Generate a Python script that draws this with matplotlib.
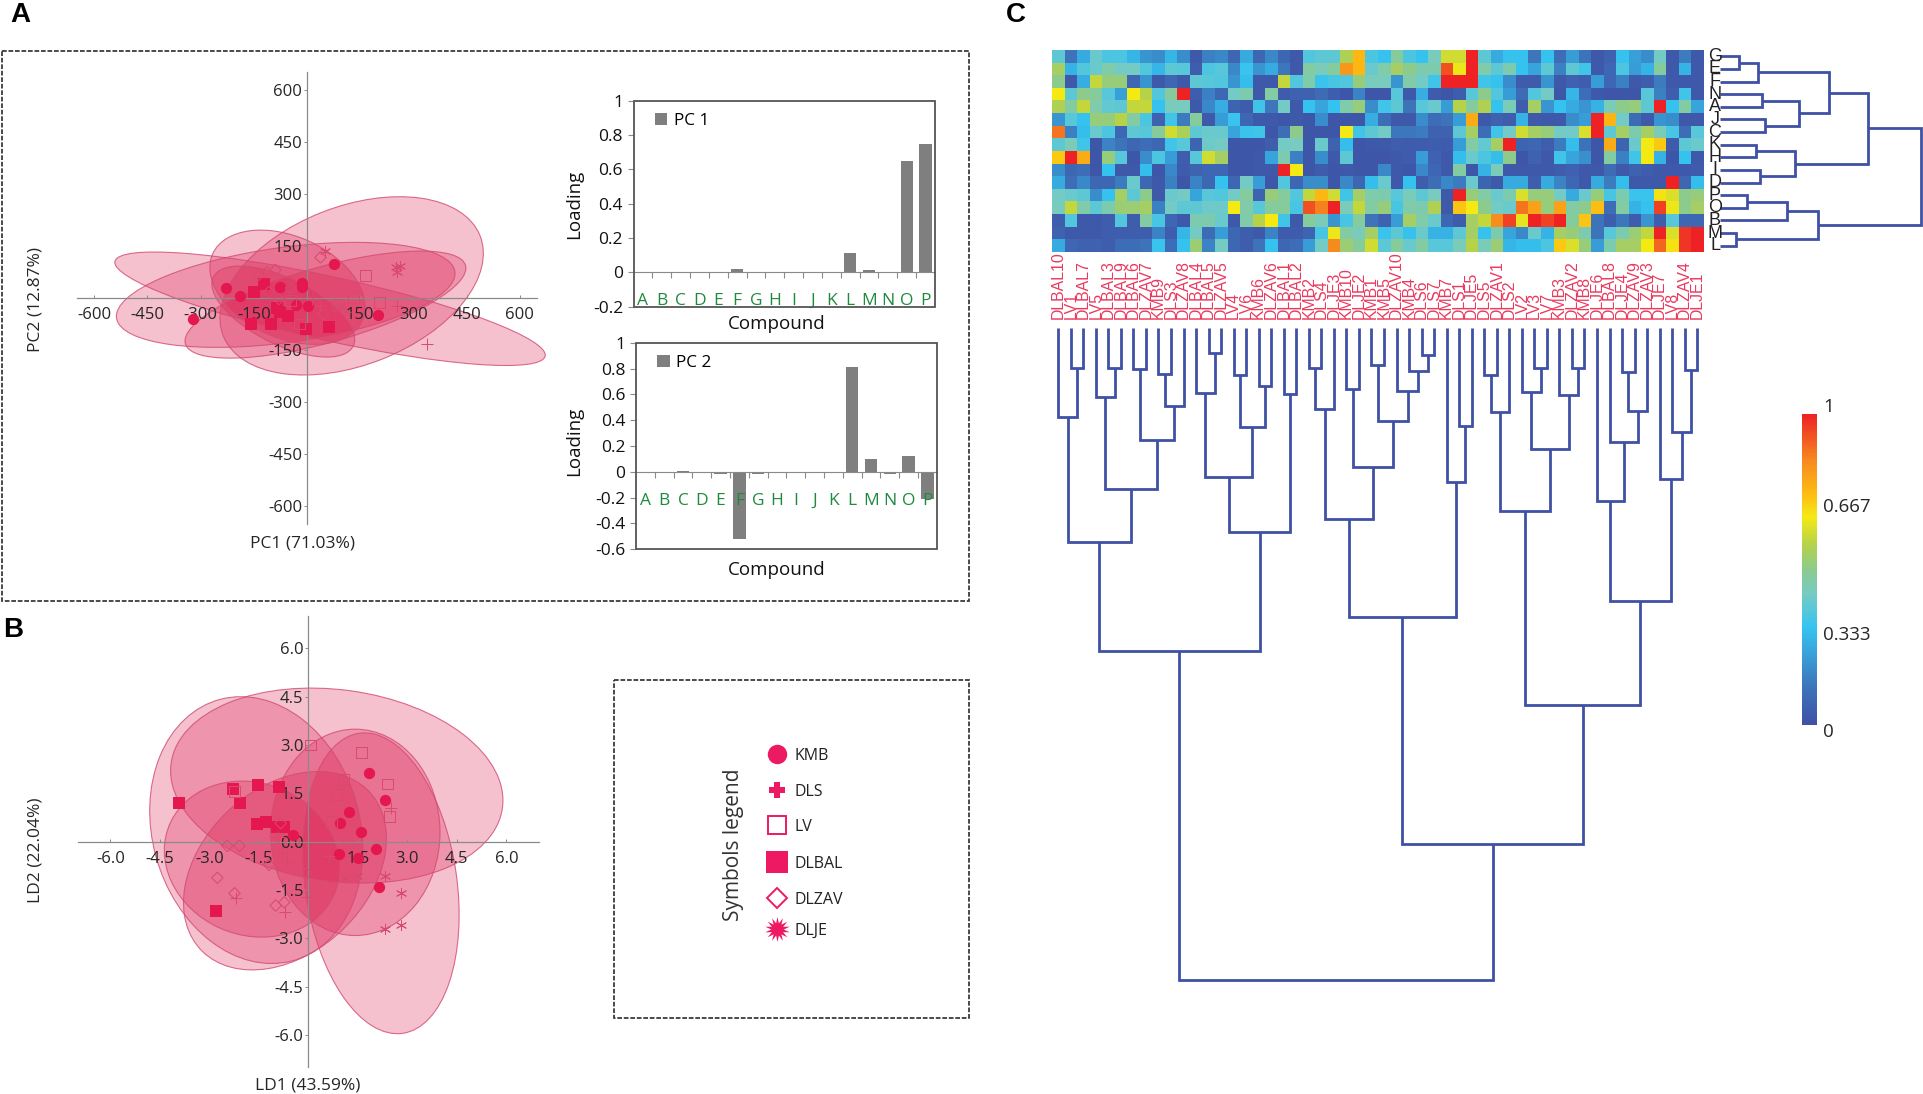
import matplotlib
matplotlib.use('Agg')
import matplotlib.pyplot as plt
from matplotlib.patches import Ellipse, Rectangle
from matplotlib.colors import LinearSegmentedColormap
import numpy as np

W, H = 1923, 1094
plt.rcParams['font.family'] = ['Open Sans', 'DejaVu Sans']

# ---------------- data ----------------
pca_ticks = [-600, -450, -300, -150, 150, 300, 450, 600]
lda_xticks = [-6.0, -4.5, -3.0, -1.5, 1.5, 3.0, 4.5, 6.0]
lda_yticks = [-6.0, -4.5, -3.0, -1.5, 0.0, 1.5, 3.0, 4.5, 6.0]

# ellipses: centre x, centre y, semi-axis a, semi-axis b, angle
pca_ellipses = [(126, 35, 390, 228, 22), (65, -31, 622, 92, -12.7), (-60, 9, 482, 137, 8),
                (52, -19, 411, 109, 16), (-55, 31, 232, 146, -25), (-67, -39, 221, 95, -27)]
lda_ellipses = [(0.86, 1.74, 5.07, 2.97, -8), (-1.58, 0.36, 4.2, 3.15, -75), (-0.71, -0.90, 3.54, 2.53, 45),
                (-1.71, -0.54, 2.72, 2.35, -25), (1.42, 0.29, 3.2, 2.57, 90), (2.2, -1.29, 4.7, 2.3, -82)]

pca_kmb = [(75, 99), (-229, 28), (-188, 6), (-75, 31), (-15, 43), (-15, 31), (-31, -21), (3, -24), (200, -50), (-321, -61)]
pca_dlbal = [(-120, 39), (-149, 16), (-85, -29), (-77, -41), (-53, -51), (-101, -75), (-2, -88), (62, -84), (-159, -75)]
pca_lv = [(164, 64), (131, 2), (204, -13), (87, -19), (-21, -75), (-46, -8)]
pca_dlzav = [(38, 117), (-89, 81), (-113, 74), (-136, 67), (-46, 28), (-108, 17), (46, -47), (-79, -3)]
pca_dls = [(338, -132), (253, -24), (36, -24), (108, -39), (15, -3)]
pca_dlje = [(262, 93), (253, 76), (92, -22), (51, 136), (251, 90)]

lda_kmb = [(1.83, 2.14), (2.32, 1.29), (1.24, 0.92), (0.96, 0.57), (1.58, 0.30), (-0.47, 0.22), (2.04, -0.23), (0.93, -0.39), (1.51, -0.52), (2.13, -1.40)]
lda_dlbal = [(-3.91, 1.21), (-2.28, 1.63), (-1.52, 1.76), (-0.88, 1.69), (-2.08, 1.20), (-1.55, 0.55), (-1.29, 0.62), (-0.95, 0.47), (-0.75, 0.47), (-2.80, -2.14)]
lda_lv = [(0.07, 3.0), (1.61, 2.76), (1.06, 1.93), (2.40, 1.79), (0.85, 1.45), (2.47, 0.78), (0.71, 0.64), (-2.24, 1.55)]
lda_dlzav = [(-0.84, 0.57), (-2.46, -0.13), (-2.09, -0.13), (-2.76, -1.12), (-2.24, -1.60), (-0.99, -1.98), (-0.73, -1.88), (-1.19, -0.72), (-0.06, -0.98)]
lda_dls = [(2.51, 1.03), (-0.92, 0.16), (-0.81, -0.36), (-0.64, -0.64), (-2.19, -1.76), (-0.70, -2.17), (0.63, -0.44), (-0.03, -1.71)]
lda_dlje = [(1.15, -1.14), (1.46, -1.05), (2.31, -1.05), (2.80, -1.60), (2.80, -2.59), (2.32, -2.71)]

compounds = list('ABCDEFGHIJKLMNOP')
pc1_loadings = [0, 0, -0.005, 0, 0, 0.02, 0.005, 0, 0, 0, 0, 0.11, 0.015, 0, 0.65, 0.75]
pc2_loadings = [0, 0, 0.01, 0, -0.02, -0.52, -0.02, 0, -0.005, 0, 0, 0.81, 0.1, -0.02, 0.12, -0.21]

sample_labels = ['DLBAL10', 'LV1', 'DLBAL7', 'LV5', 'DLBAL3', 'DLBAL9', 'DLBAL6', 'DLZAV7', 'KMB9', 'DLS3',
                 'DLZAV8', 'DLBAL4', 'DLBAL5', 'DLZAV5', 'LV4', 'LV6', 'KMB6', 'DLZAV6', 'DLBAL1', 'DLBAL2',
                 'KMB2', 'DLS4', 'DLJE3', 'KMB10', 'DLJE2', 'KMB1', 'KMB5', 'DLZAV10', 'KMB4', 'DLS6',
                 'DLS7', 'KMB7', 'DLS1', 'DLJE5', 'DLS5', 'DLZAV1', 'DLS2', 'LV2', 'LV3', 'LV7',
                 'KMB3', 'DLZAV2', 'KMB8', 'DLJE6', 'DLBAL8', 'DLJE4', 'DLZAV9', 'DLZAV3', 'DLJE7', 'LV8',
                 'DLZAV4', 'DLJE1']
row_labels = ['G', 'E', 'F', 'N', 'A', 'J', 'C', 'K', 'H', 'I', 'D', 'P', 'O', 'B', 'M', 'L']

row_G = [.38,.12,.25,.40,.35,.35,.28,.20,.18,.28,.18,.03,.15,.17,.08,.25,.08,.17,.08,.03,.36,.38,.38,.57,.75,.35,.31,
         .48,.35,.31,.43,.62,.62,1,.38,.25,.31,.31,.13,.31,.10,.22,.12,.03,.06,.31,.23,.18,.42,.03,.14,.03]
row_E = [.55,.27,.36,.40,.46,.42,.42,.36,.28,.38,.37,.05,.35,.37,.17,.32,.2,.25,.13,.03,.47,.44,.48,.82,.75,.4,.46,
         .55,.5,.45,.45,.93,.66,1,.46,.38,.45,.31,.24,.38,.15,.38,.33,.03,.08,.35,.22,.27,.48,.03,.27,.03]
row_F = [.5,.03,.26,.6,.52,.52,.08,.2,.03,.08,.03,.38,.37,.36,.2,.3,.03,.03,.6,.36,.46,.32,.34,.36,.52,.43,.43,
         .2,.46,.42,.33,1,1,1,.33,.31,.18,.04,.04,.2,.03,.06,.05,.22,.08,.15,.03,.05,.14,.03,.03,.03]
row_N = [.67,.38,.5,.48,.37,.23,.67,.58,.36,.48,1,.05,.15,.08,.42,.45,.03,.47,.04,.06,.06,.09,.05,.02,.16,.02,.02,
         .37,.03,.26,.04,.02,.05,.37,.5,.36,.22,.09,.36,.42,.02,.28,.1,.03,.02,.02,.02,.37,.15,.05,.33,.03]
row_A = [.57,.47,.6,.46,.39,.38,.6,.6,.31,.43,.43,.03,.17,.26,.07,.04,.33,.13,.42,.03,.31,.24,.31,.46,.52,.18,.33,
         .38,.12,.37,.4,.22,.58,.48,.57,.31,.44,.05,.55,.2,.31,.25,.2,.27,.44,.5,.52,.38,1,.31,.47,.24]
row_J = [.2,.37,.31,.52,.52,.58,.47,.35,.06,.33,.14,.48,.03,.22,.32,.08,.03,.03,.02,.03,.02,.18,.02,.02,.02,.26,.1,
         .03,.03,.18,.1,.12,.22,.78,.03,.06,.05,.27,.03,.03,.03,.18,.22,1,.76,.42,.09,.03,.2,.18,.03,.03]
row_C = [.88,.15,.3,.4,.35,.08,.38,.37,.48,.62,.56,.38,.4,.4,.24,.32,.33,.02,.1,.5,.02,.02,.02,.67,.33,.38,.42,
         .13,.13,.14,.06,.06,.38,.55,.1,.33,.42,.62,.55,.52,.42,.42,.63,1,.38,.55,.45,.55,.44,.34,.1,.37]
row_K = [.38,.44,.33,.02,.16,.12,.08,.1,.08,.33,.37,.07,.41,.42,.02,.02,.02,.05,.42,.43,.02,.4,.06,.3,.02,.03,.03,
         .05,.04,.04,.05,.04,.22,.47,.39,.55,1,.07,.08,.05,.14,.3,.11,.02,.78,.07,.4,.67,.72,.04,.38,.4]
row_H = [.72,1,.78,.02,.52,.37,.02,.18,.35,.22,.05,.37,.62,.55,.02,.02,.03,.24,.45,.15,.02,.18,.03,.38,.02,.02,.02,
         .03,.04,.22,.06,.03,.3,.4,.35,.3,.5,.02,.06,.03,.33,.24,.19,.02,.47,.15,.33,.67,.27,.02,.31,.03]
row_I = [.18,.08,.1,.02,.31,.03,.03,.3,.02,.17,.04,.07,.08,.08,.02,.02,.03,.03,1,.67,.02,.04,.02,.03,.02,.02,.17,
         .03,.02,.17,.08,.03,.47,.02,.27,.44,.03,.03,.03,.03,.05,.06,.03,.03,.09,.03,.06,.05,.03,.03,.03,.04]
row_D = [.25,.1,.17,.08,.08,.14,.4,.08,.03,.15,.02,.16,.08,.31,.08,.42,.22,.02,.36,.08,.18,.18,.02,.17,.08,.3,.4,
         .03,.31,.05,.1,.17,.14,.4,.07,.03,.25,.25,.05,.25,.16,.08,.03,.25,.14,.3,.03,.03,.03,1,.08,.3]
row_P = [.42,.4,.38,.18,.31,.55,.38,.5,.03,.4,.42,.24,.37,.36,.42,.48,.06,.52,.48,.36,.6,.75,.62,.33,.55,.46,.45,
         .37,.44,.38,.43,.03,1,.52,.47,.4,.45,.63,.52,.52,.42,.25,.4,.52,.34,.45,.32,.32,.68,.63,.5,.52]
row_O = [.43,.6,.46,.38,.45,.53,.53,.55,.15,.42,.38,.38,.41,.41,.67,.46,.37,.48,.48,.34,.93,.86,1,.44,.6,.47,.52,
         .34,.46,.45,.57,.03,.73,.67,.5,.42,.4,.88,.8,.52,.8,.47,.5,.74,.1,.47,.27,.31,.95,.66,.5,.55]
row_B = [.05,.36,.03,.03,.05,.36,.05,.47,.34,.08,.03,.45,.45,.40,.03,.46,.58,.67,.33,.03,.48,.44,.20,.34,.48,.12,.06,
         .22,.55,.46,.4,.08,.04,.55,.6,.84,.95,.65,1,.95,1,.48,.73,.12,.05,.13,.04,.2,.05,.37,.08,.08]
row_M = [.06,.03,.03,.03,.05,.05,.05,.05,.16,.05,.28,.42,.09,.22,.08,.05,.03,.16,.04,.04,.07,.34,.66,.47,.43,.55,.32,
         .38,.31,.4,.27,.27,.38,.55,.31,.45,.24,.17,.4,.27,.55,.52,.45,.12,.37,.45,.53,.6,1,.63,.97,1]
row_L = [.25,.08,.06,.06,.05,.1,.1,.12,.32,.1,.31,.53,.16,.42,.08,.05,.12,.31,.08,.1,.22,.42,.85,.53,.48,.62,.38,
         .48,.4,.47,.37,.37,.44,.58,.44,.53,.28,.3,.3,.35,.72,.63,.52,.22,.45,.55,.55,.67,.9,.68,.97,1]
heat_rows = [row_G, row_E, row_F, row_N, row_A, row_J, row_C, row_K, row_H, row_I, row_D, row_P, row_O, row_B, row_M, row_L]

# sample dendrogram: merge i creates node 52+i
sample_merge_a = [1, 0, 4, 3, 6, 8, 57, 56, 55, 53, 12, 11, 14, 16, 64, 63, 18, 67, 61,
                  20, 71, 23, 25, 29, 28, 27, 74, 73, 72, 32, 31, 80,
                  34, 84, 38, 37, 41, 40, 87, 85, 45, 92, 44, 43, 50, 49, 48, 95, 91, 83, 70]
sample_merge_b = [2, 52, 5, 54, 7, 9, 10, 58, 59, 60, 13, 62, 15, 17, 65, 66, 19, 68, 69,
                  21, 22, 24, 26, 30, 75, 76, 77, 78, 79, 33, 81, 82,
                  35, 36, 39, 86, 42, 88, 89, 90, 46, 47, 93, 94, 51, 96, 97, 98, 99, 100, 101]
sample_merge_h = [90, 200, 91, 156, 93, 103, 176, 251, 361, 479, 56, 146, 105, 131, 223, 335, 149, 457, 725,
                  91, 183, 137, 83, 62, 98, 141, 209, 313, 428, 220, 345, 649,
                  105, 189, 91, 144, 91, 151, 272, 411, 99, 187, 257, 389, 95, 233, 340, 613, 845, 1157, 1460]

# compound dendrogram: merge i creates node 16+i
comp_merge_a = [0, 16, 3, 5, 18, 17, 7, 9, 22, 21, 11, 26, 14, 27, 25]
comp_merge_b = [1, 2, 4, 6, 19, 20, 8, 10, 23, 24, 12, 13, 15, 28, 29]
comp_merge_h = [57, 113, 125, 135, 236, 327, 107, 121, 225, 445, 80, 200, 48, 294, 603]

cbar_labels = ['0', '0.333', '0.667', '1']
cbar_label_pos = [-0.023, 0.29, 0.70, 1.023]

# ---------------- styles ----------------
PINK = '#DC1C4E'
EDGE = '#D24A70'
MARK = '#E5174F'
AXC = '#8A8A8A'
TXT = '#262626'
DBLUE = '#3F51A5'
LABEL_RED = '#EA3A5E'
fig = plt.figure(figsize=(W / 100, H / 100), dpi=100, facecolor='white')


def ax_px(l, t, r, b, **kw):
    return fig.add_axes([l / W, 1 - b / H, (r - l) / W, (b - t) / H], **kw)


def scatter_panel(ax, ellipses, kmb, dlbal, lv, dlzav, dls, dlje, lim, xticks, yticks, fmt):
    for cx, cy, a, b, ang in ellipses:
        ax.add_patch(Ellipse((cx, cy), 2 * a, 2 * b, angle=ang, facecolor=PINK, alpha=0.27, edgecolor='none', zorder=1, clip_on=False))
        ax.add_patch(Ellipse((cx, cy), 2 * a, 2 * b, angle=ang, facecolor='none', edgecolor=EDGE, lw=0.8, alpha=0.8, zorder=1.1, clip_on=False))
    ax.scatter(*zip(*kmb), marker='o', s=66, color=MARK, lw=0, zorder=3)
    ax.scatter(*zip(*dlbal), marker='s', s=64, color=MARK, lw=0, zorder=3)
    ax.scatter(*zip(*lv), marker='s', s=62, facecolor='none', edgecolor='#D9486F', lw=0.7, zorder=3)
    ax.scatter(*zip(*dlzav), marker='D', s=34, facecolor='none', edgecolor='#D9486F', lw=0.7, zorder=3)
    ax.scatter(*zip(*dls), marker='+', s=70, color='#D9486F', lw=0.7, zorder=3)
    ax.scatter(*zip(*dlje), marker=(6, 2, 0), s=55, color='#D9486F', lw=0.7, zorder=3)
    ax.set_xlim(-lim, lim)
    ax.set_ylim(-lim, lim)
    ax.patch.set_alpha(0)
    for s in ('top', 'right'):
        ax.spines[s].set_visible(False)
    for s in ('left', 'bottom'):
        ax.spines[s].set_position('zero')
        ax.spines[s].set_color(AXC)
        ax.spines[s].set_linewidth(0.9)
        ax.spines[s].set_zorder(2)
    ax.set_xticks(xticks, [fmt(v) for v in xticks])
    ax.set_yticks(yticks, [fmt(v) for v in yticks])
    ax.tick_params(axis='x', direction='in', length=2.5, width=0.7, color=AXC, pad=6.5, labelsize=12, labelcolor=TXT)
    ax.tick_params(axis='y', direction='out', length=2.5, width=0.7, color=AXC, pad=1, labelsize=12, labelcolor=TXT)


# Panel A: score plot
ax_pca = ax_px(307 - 230.4, 298 - 225.5, 307 + 230.4, 298 + 225.5)
scatter_panel(ax_pca, pca_ellipses, pca_kmb, pca_dlbal, pca_lv, pca_dlzav, pca_dls, pca_dlje,
              650, pca_ticks, pca_ticks, lambda v: f'{v:d}')

# Panel B
ax_lda = ax_px(308.4 - 230.9, 841.7 - 225.7, 308.4 + 230.9, 841.7 + 225.7)
scatter_panel(ax_lda, lda_ellipses, lda_kmb, lda_dlbal, lda_lv, lda_dlzav, lda_dls, lda_dlje,
              7.0, lda_xticks, lda_yticks, lambda v: f'{v:.1f}')


def bar_panel(rect, values, name, ymin, ticks):
    ax = ax_px(*rect)
    x = np.arange(len(values))
    ax.bar(x, values, width=0.66, color='#7F7F7F', label=name, zorder=2)
    ax.set_axisbelow(False)
    ax.set_xlim(-0.5, 15.5)
    ax.set_ylim(ymin, 1)
    for s in ('top', 'right', 'left'):
        ax.spines[s].set_visible(False)
    ax.spines['bottom'].set_position(('data', 0))
    ax.spines['bottom'].set_color('#8A8A8A')
    ax.add_patch(Rectangle((0, 0), 1, 1, transform=ax.transAxes, fill=False, ec='#555555', lw=1.3, clip_on=False, zorder=4))
    ax.set_xticks(x, compounds)
    ax.set_xticks(x[:-1] + 0.5, minor=True)
    ax.tick_params(axis='x', which='major', length=0, pad=15, labelsize=12.5, labelcolor='#1E8A3C')
    ax.tick_params(axis='x', which='minor', length=4.5, width=0.8, color='#8A8A8A')
    ax.set_yticks(ticks, [f'{t:g}' for t in ticks])
    ax.tick_params(axis='y', length=4.5, width=0.8, color='#8A8A8A', pad=3, labelsize=12.5, labelcolor='#111111')
    ax.legend(loc='upper left', bbox_to_anchor=(0.071, 0.94), frameon=False, borderpad=0, borderaxespad=0,
              handlelength=0.72, handleheight=0.72, handletextpad=0.4, fontsize=12.3)
    return ax


bar_panel((633.5, 100.7, 935, 306.7), pc1_loadings, 'PC 1', -0.2, [-0.2, 0, 0.2, 0.4, 0.6, 0.8, 1])
bar_panel((636, 342.7, 936.7, 549.3), pc2_loadings, 'PC 2', -0.6, [-0.6, -0.4, -0.2, 0, 0.2, 0.4, 0.6, 0.8, 1])

# Panel C: heat map
nodes = [(0, '#3F51A5'), (0.12, '#3D74BA'), (0.31, '#35C3F0'), (0.42, '#75CBC5'), (0.5, '#8CCB8E'),
         (0.58, '#B5D24A'), (0.67, '#F5EA14'), (0.75, '#FDB913'), (0.85, '#F68B1F'), (1, '#EE2224')]
cmap = LinearSegmentedColormap.from_list('heat', nodes)
ax_heat = ax_px(1052, 50, 1703.5, 252)
img = ax_heat.imshow(np.array(heat_rows), aspect='auto', cmap=cmap, vmin=0, vmax=1, interpolation='nearest')
ax_heat.axis('off')
for k, lab in enumerate(sample_labels):
    ax_heat.annotate(lab, xy=(k, 0), xycoords=('data', 'axes fraction'), xytext=(0, -(319 - 252) * 0.72),
                     textcoords='offset points', rotation=90, ha='center', va='bottom', color=LABEL_RED,
                     fontsize=11.4, family='Liberation Sans', annotation_clip=False)


def draw_tree(ax, n_leaves, merge_a, merge_b, merge_h, horizontal):
    pos = {i: float(i) for i in range(n_leaves)}
    hgt = {i: 0.0 for i in range(n_leaves)}
    for i, (a, b, h) in enumerate(zip(merge_a, merge_b, merge_h)):
        node = n_leaves + i
        xs = [pos[a], pos[a], pos[b], pos[b]]
        ys = [hgt[a], h, h, hgt[b]]
        if horizontal:
            ax.plot(ys, xs, color=DBLUE, lw=2.0, solid_joinstyle='miter', solid_capstyle='butt', clip_on=False)
        else:
            ax.plot(xs, ys, color=DBLUE, lw=2.0, solid_joinstyle='miter', solid_capstyle='butt', clip_on=False)
        pos[node] = (pos[a] + pos[b]) / 2
        hgt[node] = h


ax_den = ax_px(1052, 327.7, 1703.5, 979.5)
draw_tree(ax_den, 52, sample_merge_a, sample_merge_b, sample_merge_h, False)
ax_den.set_xlim(-0.5, 51.5)
ax_den.set_ylim(1460, 0)
ax_den.axis('off')

ax_rden = ax_px(1720, 50, 1921, 252)
draw_tree(ax_rden, 16, comp_merge_a, comp_merge_b, comp_merge_h, True)
ax_rden.set_xlim(0, 603)
ax_rden.set_ylim(15.5, -0.5)
ax_rden.axis('off')
for j, lab in enumerate(row_labels):
    ax_rden.annotate(lab, xy=(0, j), xycoords=('axes fraction', 'data'), xytext=(-3.6, 0), textcoords='offset points',
                     ha='center', va='center', fontsize=13, color='#222222', family='Liberation Sans',
                     annotation_clip=False)

# colour bar
cax = ax_px(1801.7, 414, 1817, 725)
fig.colorbar(img, cax=cax)
cax.set_yticks([])
cax.spines['outline'].set_visible(False)
for lab, p in zip(cbar_labels, cbar_label_pos):
    cax.text(1.42, p, lab, transform=cax.get_yaxis_transform(), ha='left', va='center', fontsize=13.5, color=TXT, clip_on=False)

# overlay: frames, panel letters, titles, symbols legend
ov = fig.add_axes([0, 0, 1, 1], zorder=10)
ov.set_xlim(0, W)
ov.set_ylim(H, 0)
ov.axis('off')
for (l, t, r, b) in [(2, 51, 969, 601), (614, 680, 969, 1018)]:
    ov.add_patch(Rectangle((l, t), r - l, b - t, fill=False, ec='#3C3C3C', lw=1.3, ls=(0, (2.6, 1.0))))
for s, x, y in [('A', 10, 15), ('B', 3, 630), ('C', 1006, 15)]:
    ov.text(x, y, s, fontsize=20, fontweight='bold', family='Liberation Sans', color='black', ha='left', va='center')


def label(x, y, s, rot=0, size=12.5, ha='center', color=TXT):
    ov.text(x, y, s, rotation=rot, fontsize=size, ha=ha, va='center', color=color)


label(302, 543, 'PC1 (71.03%)')
label(35, 299, 'PC2 (12.87%)', rot=90)
label(308, 1085, 'LD1 (43.59%)')
label(35, 850, 'LD2 (22.04%)', rot=90)
label(776.7, 324, 'Compound', size=13.5, color='#111111')
label(776.7, 570, 'Compound', size=13.5, color='#111111')
label(574.5, 204, 'Loading', rot=90, size=13.5, color='#111111')
label(574, 441, 'Loading', rot=90, size=13.5, color='#111111')
label(733, 845, 'Symbols legend', rot=90, size=15, color='#333333')

LEG = '#ED1A63'
legend_names = ['KMB', 'DLS', 'LV', 'DLBAL', 'DLZAV', 'DLJE']
legend_ypos = [753.7, 789.7, 825.3, 862, 898, 929]
legend_style = [dict(marker='o', ms=14, mfc=LEG, mec=LEG, mew=0),
                dict(marker='P', ms=12, mfc=LEG, mec=LEG, mew=0),
                dict(marker='s', ms=12.5, mfc='white', mec=LEG, mew=1.4),
                dict(marker='s', ms=16, mfc=LEG, mec=LEG, mew=0),
                dict(marker='D', ms=10, mfc='white', mec=LEG, mew=1.4),
                dict(marker=(14, 1, 0), ms=18, mfc=LEG, mec=LEG, mew=0)]
for name, y, st in zip(legend_names, legend_ypos, legend_style):
    ov.plot([776.7], [y], ls='none', **st)
    label(795, y + 2, name, size=11.5, ha='left', color='#222222')

fig.savefig('out.png', dpi=100)
